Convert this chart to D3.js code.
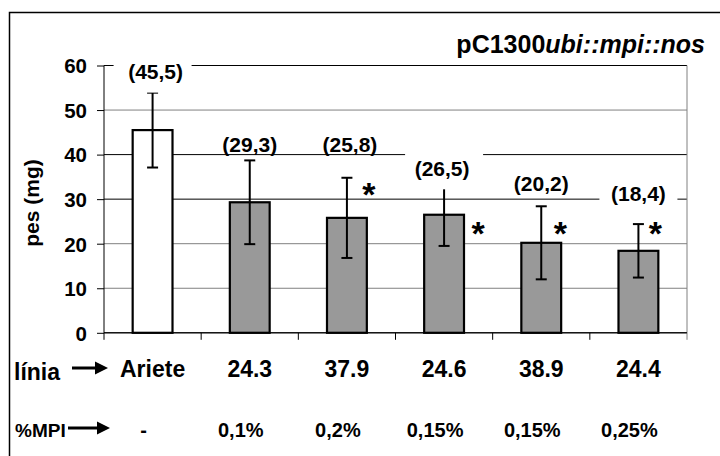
<!DOCTYPE html>
<html>
<head>
<meta charset="utf-8">
<script src="https://cdn.jsdelivr.net/npm/d3@7"></script>
<style>
  html, body { margin: 0; padding: 0; background: #fff; }
  svg { display: block; }
  text { font-family: "Liberation Sans", Arial, sans-serif; font-weight: bold; fill: #000; }
</style>
</head>
<body>
<svg id="chart" width="720" height="456"></svg>
<script>
// Plant lines and their mean weight (mg) with error
const lines = ["Ariete", "24.3", "37.9", "24.6", "38.9", "24.4"];
const mpiLevels = ["-", "0,1%", "0,2%", "0,15%", "0,15%", "0,25%"];
const weights = [45.5, 29.3, 25.8, 26.5, 20.2, 18.4];
const errors = [8.4, 9.4, 9.0, 7.0, 8.2, 6.0];
const significant = [false, false, true, true, true, true];
const yTicks = [0, 10, 20, 30, 40, 50, 60];

// Label layout: axis level of each mean label, whether it sits on a white box,
// and where the significance asterisk goes
const labelLevel = [58.4, 41.9, 41.9, 36.7, 33.3, 31.0];
const labelShift = [3, 0, 3, -2, 0, 0];
const labelBoxed = [true, false, false, true, false, true];
const starShift = [0, 0, 22, 34, 19, 17];
const starLevel = [0, 0, 32.7, 24.0, 24.0, 24.0];
const softGrid = new Set([50, 20, 10]);

const svg = d3.select("#chart");
const plotLeft = 104, plotRight = 687, plotTop = 65.5, plotBottom = 332.8;

const x = d3.scaleBand().domain(lines).range([plotLeft, plotRight])
  .paddingInner(0.59).paddingOuter(0.295);
const y = d3.scaleLinear().domain([0, 60]).range([plotBottom, plotTop]);
const comma = d3.formatLocale({ decimal: ",", thousands: ".", grouping: [3], currency: ["", ""] }).format(".1f");
const cx = d => x(d) + x.bandwidth() / 2;

// Outer frame
svg.append("rect").attr("x", 9.5).attr("y", 12.5).attr("width", 720).attr("height", 460)
  .attr("fill", "none").attr("stroke", "#000").attr("stroke-width", 1.5);

// Title
const title = svg.append("text").attr("x", 705).attr("y", 53).attr("text-anchor", "end")
  .attr("font-size", 25);
title.append("tspan").text("pC1300");
title.append("tspan").attr("font-style", "italic").text("ubi::mpi::nos");

// Gridlines and y axis
const yAxis = d3.axisLeft(y).tickValues(yTicks).tickSize(7).tickPadding(10);
const gy = svg.append("g").attr("transform", `translate(${plotLeft},0)`).call(yAxis);
gy.select(".domain").remove();
gy.selectAll(".tick line").attr("stroke", "#000");
gy.selectAll(".tick text").attr("font-size", 20.5).attr("font-family", null)
  .attr("dy", "0.36em").attr("font-weight", "bold");
svg.append("g").selectAll("line").data(yTicks).join("line")
  .attr("x1", plotLeft).attr("x2", plotRight)
  .attr("y1", d => y(d)).attr("y2", d => y(d))
  .attr("stroke", d => softGrid.has(d) ? "#808080" : "#000").attr("stroke-width", 1);

svg.append("text").attr("transform", "translate(39,203) rotate(-90)")
  .attr("text-anchor", "middle").attr("font-size", 21).text("pes (mg)");

// Plot edges
svg.append("line").attr("x1", plotLeft).attr("x2", plotLeft).attr("y1", plotTop).attr("y2", plotBottom + 7)
  .attr("stroke", "#000");
svg.append("line").attr("x1", plotRight).attr("x2", plotRight).attr("y1", plotTop).attr("y2", plotBottom + 7)
  .attr("stroke", "#808080");
svg.append("line").attr("x1", plotLeft).attr("x2", plotRight).attr("y1", plotBottom).attr("y2", plotBottom)
  .attr("stroke", "#000");

// Category boundary ticks
const half = x.step() * x.paddingInner() / 2;
svg.append("g").selectAll("line").data(lines.slice(1)).join("line")
  .attr("x1", d => x(d) - half).attr("x2", d => x(d) - half)
  .attr("y1", plotBottom).attr("y2", plotBottom + 7).attr("stroke", "#000");

// Bars
svg.append("g").selectAll("rect").data(lines).join("rect")
  .attr("x", d => x(d)).attr("width", x.bandwidth())
  .attr("y", (d, i) => y(weights[i])).attr("height", (d, i) => plotBottom - y(weights[i]))
  .attr("fill", (d, i) => i === 0 ? "#fff" : "#999999")
  .attr("stroke", "#000").attr("stroke-width", 2.2);

// Error bars
const eb = svg.append("g").attr("stroke", "#000").attr("stroke-width", 2);
lines.forEach((d, i) => {
  const hi = y(weights[i] + errors[i]), lo = y(weights[i] - errors[i]), c = cx(d);
  eb.append("line").attr("x1", c).attr("x2", c).attr("y1", hi).attr("y2", lo);
  eb.append("line").attr("x1", c - 5.5).attr("x2", c + 5.5).attr("y1", hi).attr("y2", hi);
  eb.append("line").attr("x1", c - 5.5).attr("x2", c + 5.5).attr("y1", lo).attr("y2", lo);
});

// Mean labels
const lg = svg.append("g");
lines.forEach((d, i) => {
  const cy = y(labelLevel[i]), lx = cx(d) + labelShift[i];
  if (labelBoxed[i]) {
    lg.append("rect").attr("x", cx(d) - 39).attr("y", cy - 16).attr("width", 78).attr("height", 36)
      .attr("fill", "#fff");
  }
  lg.append("text").attr("x", lx).attr("y", cy).attr("dy", "0.3em")
    .attr("text-anchor", "middle").attr("font-size", 21)
    .text(`(${comma(weights[i])})`);
});

// Significance asterisks
const starSize = 34;
lines.forEach((d, i) => {
  if (!significant[i]) return;
  svg.append("text").attr("x", cx(d) + starShift[i]).attr("y", y(starLevel[i]) + starSize * 0.55)
    .attr("text-anchor", "middle").attr("font-size", starSize).text("*");
});

// Category rows
const xAxis = d3.axisBottom(x).tickSize(0);
const gx = svg.append("g").attr("transform", `translate(0,${plotBottom})`).call(xAxis);
gx.select(".domain").remove();
gx.selectAll(".tick text").attr("font-size", 23).attr("font-family", null).attr("font-weight", "bold")
  .attr("dy", null).attr("y", 44);

svg.append("g").selectAll("text").data(lines).join("text")
  .attr("x", d => cx(d) - 9).attr("y", 437).attr("text-anchor", "middle")
  .attr("font-size", 20).text((d, i) => mpiLevels[i]);

// Row headings with arrows
svg.append("text").attr("x", 14).attr("y", 380).attr("font-size", 23).text("línia");
svg.append("text").attr("x", 15).attr("y", 437).attr("font-size", 19).text("%MPI");
function arrow(x1, x2, yy) {
  svg.append("line").attr("x1", x1).attr("x2", x2 - 10).attr("y1", yy).attr("y2", yy)
    .attr("stroke", "#000").attr("stroke-width", 3);
  svg.append("path").attr("d", `M${x2 - 13},${yy - 6.5} L${x2},${yy} L${x2 - 13},${yy + 6.5} Z`)
    .attr("fill", "#000");
}
arrow(72, 108, 368);
arrow(68, 110, 428);
</script>
</body>
</html>
